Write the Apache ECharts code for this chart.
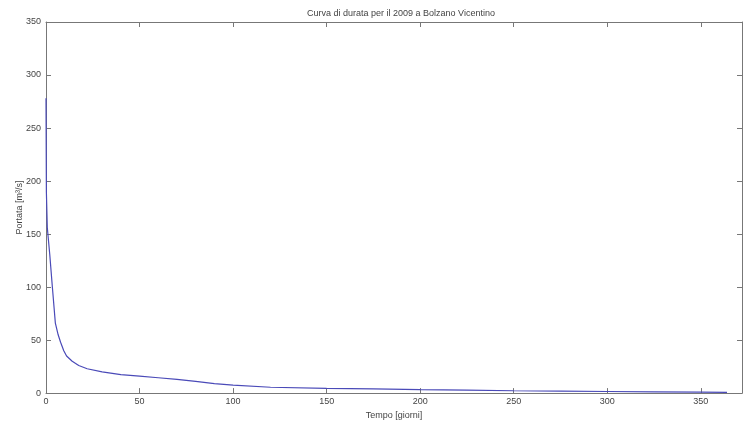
<!DOCTYPE html>
<html>
<head>
<meta charset="utf-8">
<script src="https://cdn.jsdelivr.net/npm/echarts@6/dist/echarts.min.js"></script>
<style>html,body{margin:0;padding:0;background:#fff}#c{width:745px;height:425px}</style>
</head>
<body>
<div id="c"></div>
<script>
const days  = [0, 0.2, 0.7, 2, 3.4, 5, 6.5, 7.8, 9.5, 11, 14, 17.5, 22, 30, 40, 50, 60, 70, 80, 90, 100, 120, 150, 175, 200, 225, 250, 275, 300, 325, 350, 364];
const flows = [278, 190, 156, 131, 100, 66, 55, 48, 40, 35, 30, 26, 23, 20, 17.5, 16, 14.5, 13, 11, 9, 7.5, 5.5, 4.5, 4, 3.2, 2.8, 2.2, 1.8, 1.5, 1.2, 0.9, 0.6];
const titleText = 'Curva di durata per il 2009 a Bolzano Vicentino';
const xName = 'Tempo [giorni]';
const yName = 'Portata [m³/s]';

const series = days.map((d, i) => [d, flows[i]]);
const axisColor = '#777';
const txt = '#444';
const font = 'Arial, Liberation Sans, sans-serif';
const chart = echarts.init(document.getElementById('c'));
const baseX = {
  type: 'value', min: 0, max: 372, interval: 50,
  axisLine: { show: true, onZero: false, lineStyle: { color: axisColor, width: 1 } },
  axisTick: { show: true, inside: true, length: 5, lineStyle: { color: axisColor } },
  splitLine: { show: false }
};
const baseY = {
  type: 'value', min: 0, max: 350, interval: 50,
  axisLine: { show: true, onZero: false, lineStyle: { color: axisColor, width: 1 } },
  axisTick: { show: true, inside: true, length: 5, lineStyle: { color: axisColor } },
  splitLine: { show: false }
};
chart.setOption({
  backgroundColor: '#fff',
  animation: false,
  title: { text: titleText, left: 396, textAlign: 'center', top: 4,
    textStyle: { fontSize: 9, fontWeight: 'normal', color: txt, fontFamily: font } },
  grid: { left: 46, right: 1, top: 22, bottom: 27 },
  xAxis: [
    Object.assign({}, baseX, { position: 'bottom', name: xName, nameLocation: 'middle', nameGap: 15,
      nameTextStyle: { fontSize: 9, color: txt, fontFamily: font },
      axisLabel: { fontSize: 9, color: txt, fontFamily: font, margin: 4,
        formatter: v => (v % 50 === 0 ? String(v) : '') } }),
    Object.assign({}, baseX, { position: 'top', axisLabel: { show: false } })
  ],
  yAxis: [
    Object.assign({}, baseY, { position: 'left', name: yName, nameLocation: 'middle', nameGap: 22,
      nameMoveOverlap: false,
      nameTextStyle: { fontSize: 9, color: txt, fontFamily: font },
      axisLabel: { fontSize: 9, color: txt, fontFamily: font, margin: 5 } }),
    Object.assign({}, baseY, { position: 'right', axisLabel: { show: false } })
  ],
  series: [{
    type: 'line', data: series, showSymbol: false, smooth: false,
    lineStyle: { color: '#4a4ab8', width: 1.2 }, clip: true
  }]
});
</script>
</body>
</html>
